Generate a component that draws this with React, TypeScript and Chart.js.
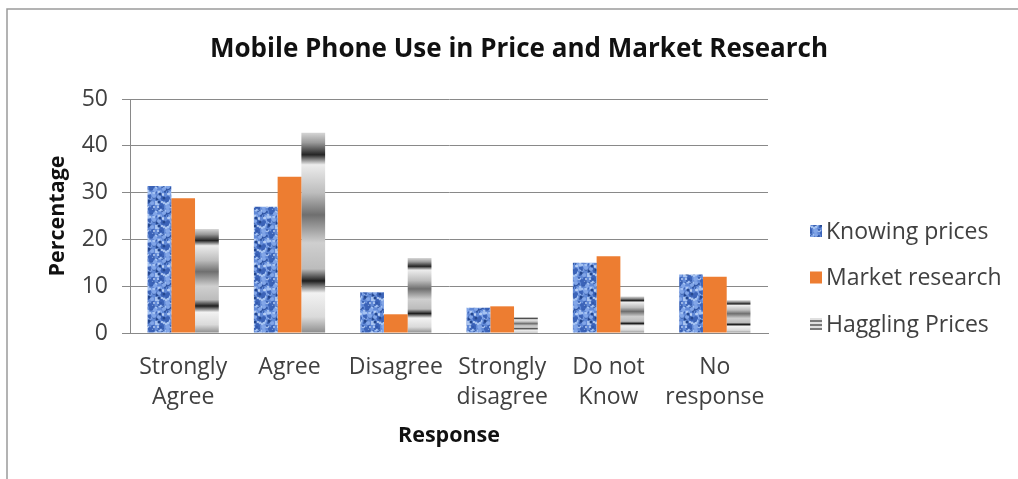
import React, { useEffect, useRef } from "react";
import { Chart, registerables } from "chart.js";

Chart.register(...registerables);

// ---- data ----
const categories: (string | string[])[] = [
  ["Strongly", "Agree"],
  "Agree",
  "Disagree",
  ["Strongly", "disagree"],
  ["Do not", "Know"],
  ["No", "response"],
];
const knowingPrices = [31.4, 27.0, 8.7, 5.4, 15.0, 12.5];
const marketResearch = [28.8, 33.4, 4.0, 5.7, 16.4, 12.0];
const hagglingPrices = [22.2, 42.8, 16.0, 3.4, 7.8, 7.0];
const seriesNames = ["Knowing prices", "Market research", "Haggling Prices"];
const yMin = 0;
const yMax = 50;
const yStep = 10;

const FONT = "'Open Sans', Lato, sans-serif";
const ORANGE = "#ed7d31";
const GRID = "#898989";
const TEXT = "#404040";

const hagglingStops: [number, string][] = [
  [0, "#d6d6d6"],
  [0.05, "#9a9a9a"],
  [0.11, "#252525"],
  [0.16, "#ececec"],
  [0.3, "#bdbdbd"],
  [0.41, "#6f6f6f"],
  [0.55, "#cfcfcf"],
  [0.68, "#bcbcbc"],
  [0.74, "#1f1f1f"],
  [0.8, "#f2f2f2"],
  [0.92, "#dadada"],
  [1, "#8c8c8c"],
];

function makeBluePattern(ctx: CanvasRenderingContext2D): CanvasPattern | string {
  const c = document.createElement("canvas");
  c.width = 24;
  c.height = 24;
  const g = c.getContext("2d");
  if (!g) return "#5b84d2";
  g.fillStyle = "#6189d6";
  g.fillRect(0, 0, 24, 24);
  const cols = ["#2f55a8", "#a4c2f2", "#3b63b8", "#c8dbf8", "#24478f", "#82a6e8"];
  for (let i = 0; i < 90; i++) {
    const x = (i * 7 + ((i * i) % 11)) % 24;
    const y = (i * 13 + ((i * i * 3) % 17)) % 24;
    g.fillStyle = cols[i % cols.length];
    const r = 0.9 + (i % 3) * 0.6;
    for (const dx of [-24, 0, 24]) {
      for (const dy of [-24, 0, 24]) {
        g.beginPath();
        g.arc(x + dx, y + dy, r, 0, Math.PI * 2);
        g.fill();
      }
    }
  }
  return ctx.createPattern(c, "repeat") || "#5b84d2";
}

function makeStripePattern(ctx: CanvasRenderingContext2D): CanvasPattern | string {
  const c = document.createElement("canvas");
  c.width = 4;
  c.height = 4;
  const g = c.getContext("2d");
  if (!g) return "#999";
  g.fillStyle = "#e0e0e0";
  g.fillRect(0, 0, 4, 4);
  g.fillStyle = "#7a7a7a";
  g.fillRect(0, 0, 4, 2);
  return ctx.createPattern(c, "repeat") || "#999";
}

const borderPlugin = {
  id: "frameBorder",
  beforeDraw(chart: any) {
    const ctx = chart.ctx as CanvasRenderingContext2D;
    ctx.save();
    ctx.strokeStyle = "#9a9a9a";
    ctx.lineWidth = 1.5;
    ctx.beginPath();
    ctx.moveTo(7, chart.height);
    ctx.lineTo(7, 9);
    ctx.lineTo(chart.width, 9);
    ctx.stroke();
    ctx.restore();
  },
};

const legendPlugin = {
  id: "sideLegend",
  afterDraw(chart: any) {
    const ctx = chart.ctx as CanvasRenderingContext2D;
    const area = chart.chartArea;
    const x0 = area.right + 42;
    const firstY = area.top + 132;
    const gap = 46.5;
    ctx.save();
    ctx.font = `23px ${FONT}`;
    ctx.textBaseline = "middle";
    ctx.textAlign = "left";
    chart.data.datasets.forEach((ds: any, i: number) => {
      const y = firstY + i * gap;
      ctx.fillStyle = ds.legendFill;
      ctx.fillRect(x0, y - 6, 12, 12);
      ctx.fillStyle = TEXT;
      ctx.fillText(ds.label, x0 + 16, y + 1);
    });
    ctx.restore();
  },
};

export default function App() {
  const ref = useRef<HTMLCanvasElement | null>(null);

  useEffect(() => {
    document.body.style.margin = "0";
    document.body.style.overflow = "hidden";
    const canvas = ref.current;
    if (!canvas) return;
    const ctx = canvas.getContext("2d");
    if (!ctx) return;
    const blue = makeBluePattern(ctx);
    const stripes = makeStripePattern(ctx);

    const hagglingFill = (c: any) => {
      const chart = c.chart;
      const ys = chart.scales && chart.scales.y;
      if (!chart.chartArea || !ys || typeof c.raw !== "number") return "#a0a0a0";
      const top = ys.getPixelForValue(c.raw);
      const bottom = ys.getPixelForValue(0);
      if (!isFinite(top) || !isFinite(bottom) || bottom - top < 1) return "#a0a0a0";
      const g = chart.ctx.createLinearGradient(0, top, 0, bottom);
      hagglingStops.forEach(([o, col]) => g.addColorStop(o, col));
      return g;
    };

    const barCommon = { categoryPercentage: 0.67, barPercentage: 1.0, yAxisID: "y" };

    const chart = new Chart(ctx, {
      type: "bar",
      data: {
        labels: categories,
        datasets: [
          { label: seriesNames[0], data: knowingPrices, backgroundColor: blue as any, legendFill: blue, ...barCommon } as any,
          { label: seriesNames[1], data: marketResearch, backgroundColor: ORANGE, legendFill: ORANGE, ...barCommon } as any,
          { label: seriesNames[2], data: hagglingPrices, backgroundColor: hagglingFill, legendFill: stripes, ...barCommon } as any,
        ],
      },
      options: {
        animation: false,
        responsive: true,
        maintainAspectRatio: false,
        layout: { padding: { left: 20, right: 0, top: 0, bottom: 26 } },
        plugins: {
          legend: { display: false },
          tooltip: { enabled: false },
          title: {
            display: true,
            text: "Mobile Phone Use in Price and Market Research",
            font: { family: FONT, size: 26, weight: "bold" },
            color: "#111111",
            padding: { top: 34.4, bottom: 33.4 },
          },
        },
        scales: {
          x: {
            grid: { display: false, drawTicks: false },
            border: { display: true, color: GRID, width: 1 },
            ticks: {
              font: { family: FONT, size: 23, lineHeight: 1.3 },
              color: TEXT,
              padding: 20,
              maxRotation: 0,
              autoSkip: false,
            },
            title: {
              display: true,
              text: "Response",
              font: { family: FONT, size: 21.5, weight: "bold" },
              color: "#111111",
              padding: { top: 12, bottom: 4 },
            },
            afterFit: (s: any) => {
              s.height = 120;
            },
          },
          y: {
            position: "left",
            min: yMin,
            max: yMax,
            ticks: {
              stepSize: yStep,
              font: { family: FONT, size: 23 },
              color: TEXT,
              padding: 14,
            },
            grid: { color: GRID, tickLength: 8, drawTicks: true, lineWidth: 1 },
            border: { display: true, color: GRID, width: 1 },
            title: {
              display: true,
              text: "Percentage",
              font: { family: FONT, size: 21.5, weight: "bold" },
              color: "#111111",
              padding: { top: 25, bottom: 10 },
            },
            afterFit: (s: any) => {
              s.width = 110;
            },
          },
          legendSpace: {
            type: "linear",
            position: "right",
            display: true,
            grid: { display: false, drawTicks: false },
            border: { display: false },
            ticks: { display: false },
            afterFit: (s: any) => {
              s.width = 250;
            },
          },
        },
      } as any,
      plugins: [borderPlugin, legendPlugin],
    });
    return () => chart.destroy();
  }, []);

  return (
    <div style={{ position: "relative", width: "1018px", height: "479px" }}>
      <canvas ref={ref} />
    </div>
  );
}
